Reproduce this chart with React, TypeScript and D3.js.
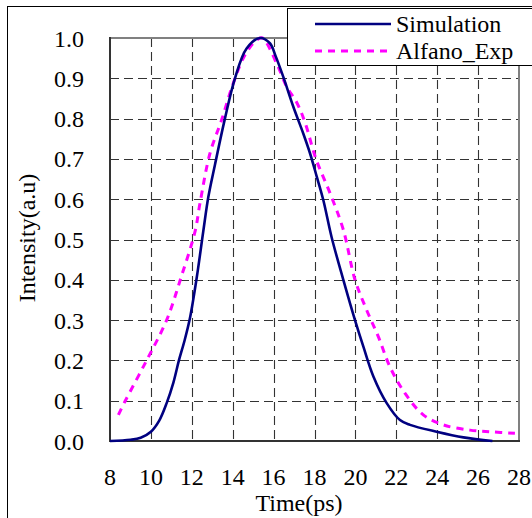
import React from "react";
import * as d3 from "d3";

const simT = [8, 9, 9.5, 10, 10.4, 10.77, 11.1, 11.37, 11.65, 11.91, 12.24, 12.56, 12.81, 13.13, 13.62, 14.11, 14.68, 15.33, 15.82, 16.1, 16.47, 16.96, 17.45, 17.78, 18.11, 18.43, 18.84, 19.41, 19.98, 20.39, 20.88, 21.53, 22.18, 22.67, 23.97, 25.28, 26.7];
const simV = [0.0, 0.003, 0.008, 0.023, 0.05, 0.094, 0.145, 0.2, 0.25, 0.305, 0.405, 0.52, 0.606, 0.685, 0.8, 0.9, 0.974, 1.0, 0.987, 0.955, 0.904, 0.83, 0.763, 0.714, 0.656, 0.598, 0.505, 0.4, 0.3, 0.234, 0.16, 0.094, 0.052, 0.04, 0.023, 0.009, 0.0];

const expT = [8.41, 8.73, 9.79, 10.77, 11.5, 12.16, 12.4, 12.89, 13.46, 14.03, 14.6, 15.17, 15.45, 16.15, 16.64, 17.13, 17.54, 18.07, 18.76, 19.41, 19.98, 20.55, 21.12, 21.69, 22.43, 23.32, 24.3, 25.6, 26.58, 27.8];
const expV = [0.065, 0.098, 0.2, 0.3, 0.41, 0.52, 0.59, 0.714, 0.797, 0.888, 0.958, 0.995, 1.0, 0.937, 0.879, 0.84, 0.79, 0.7, 0.615, 0.524, 0.4, 0.325, 0.259, 0.184, 0.118, 0.065, 0.04, 0.027, 0.023, 0.019];

const xTicks = [8, 10, 12, 14, 16, 18, 20, 22, 24, 26, 28];
const yTicks = [0, 0.1, 0.2, 0.3, 0.4, 0.5, 0.6, 0.7, 0.8, 0.9, 1.0];
const seriesNames = ["Simulation", "Alfano_Exp"];

const W = 532, H = 518;
const L = 110, R = 519, T = 38, B = 441;
const FONT = "'Liberation Serif', 'Times New Roman', Times, 'DejaVu Serif', serif";

export default function App() {
  const x = d3.scaleLinear().domain([8, 28]).range([L, R]);
  const y = d3.scaleLinear().domain([0, 1]).range([B, T]);
  const line = d3.line<[number, number]>().x(d => x(d[0])).y(d => y(d[1])).curve(d3.curveCatmullRom.alpha(0.5));
  const simPath = line(simT.map((t, i) => [t, simV[i]] as [number, number])) || "";
  const expPath = line(expT.map((t, i) => [t, expV[i]] as [number, number])) || "";
  const tp = { style: { fontFamily: FONT }, fontSize: 24, fill: "#000" };

  return (
    <div style={{ position: "fixed", left: 0, top: 0 }}>
      <svg width={W} height={H} style={{ display: "block" }}>
        <rect x={0} y={0} width={W} height={H} fill="#fff" />
        <rect x={7.5} y={6.5} width={600} height={600} fill="none" stroke="#000" strokeWidth={1} />
        {xTicks.slice(1, -1).map(t => (
          <line key={"gx" + t} x1={Math.round(x(t)) + 0.5} x2={Math.round(x(t)) + 0.5} y1={T} y2={B} stroke="#333" strokeWidth={1.1} strokeDasharray="9,5" />
        ))}
        {yTicks.slice(1, -1).map(v => (
          <line key={"gy" + v} x1={L} x2={R} y1={Math.round(y(v)) + 0.5} y2={Math.round(y(v)) + 0.5} stroke="#333" strokeWidth={1.1} strokeDasharray="9,5" />
        ))}
        <line x1={L} x2={R} y1={T} y2={T} stroke="#808080" strokeWidth={2} />
        <line x1={R} x2={R} y1={T} y2={B} stroke="#808080" strokeWidth={2} />
        <line x1={L} x2={L} y1={T - 1} y2={B + 1} stroke="#333" strokeWidth={2} />
        <line x1={L - 1} x2={R + 1} y1={B} y2={B} stroke="#333" strokeWidth={2} />
        <path d={expPath} fill="none" stroke="#FF00FF" strokeWidth={3} strokeDasharray="7,6" />
        <path d={simPath} fill="none" stroke="#000080" strokeWidth={2.6} />
        {yTicks.map(v => (
          <text key={"ty" + v} x={84} y={y(v) + 8.5} textAnchor="end" {...tp}>{v.toFixed(1)}</text>
        ))}
        {xTicks.map(t => (
          <text key={"tx" + t} x={x(t)} y={485} textAnchor="middle" {...tp}>{t}</text>
        ))}
        <text x={299} y={511} textAnchor="middle" {...tp}>Time(ps)</text>
        <text transform={`translate(35,238) rotate(-90)`} textAnchor="middle" {...tp}>Intensity(a.u)</text>
        <rect x={287.5} y={8.5} width={300} height={57} fill="#fff" stroke="#000" strokeWidth={1} />
        <line x1={315} x2={391} y1={24} y2={24} stroke="#000080" strokeWidth={2.6} />
        <line x1={315} x2={391} y1={51} y2={51} stroke="#FF00FF" strokeWidth={3} strokeDasharray="7,6" />
        <text x={396} y={32} {...tp}>{seriesNames[0]}</text>
        <text x={396} y={59} {...tp}>{seriesNames[1]}</text>
      </svg>
    </div>
  );
}
